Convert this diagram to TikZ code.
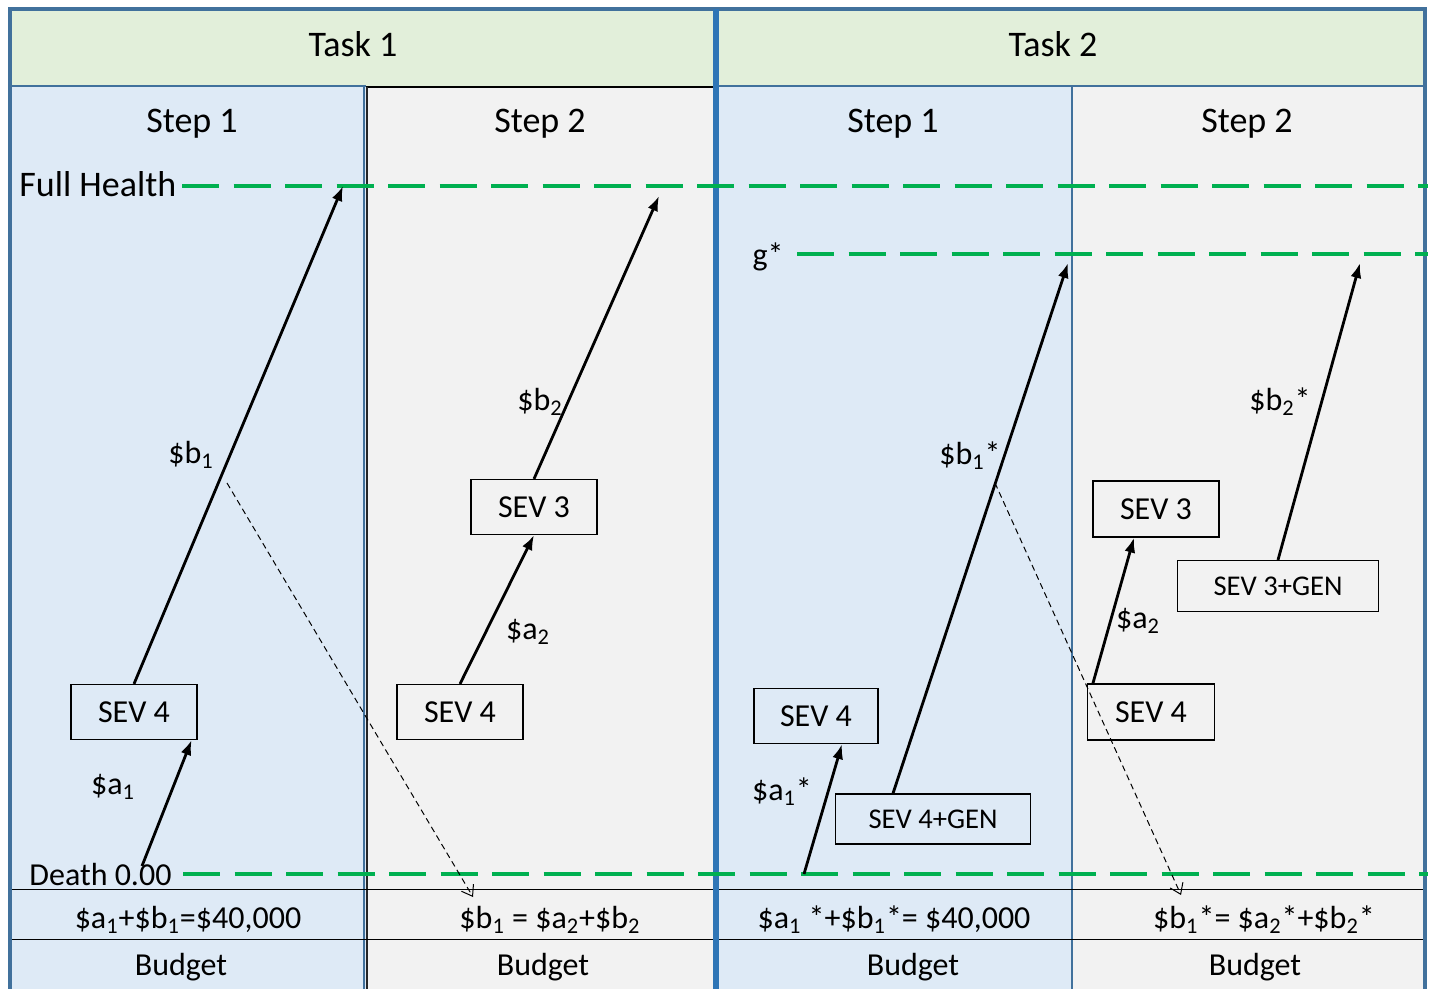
\documentclass[tikz,border=0pt]{standalone}
\usepackage{fontspec}
\setmainfont{Carlito}
\usetikzlibrary{arrows.meta,calc}

\definecolor{hdrgreen}{HTML}{E2EFDA}
\definecolor{cellblue}{HTML}{DEEAF6}
\definecolor{cellgray}{HTML}{F2F2F2}
\definecolor{frameblue}{HTML}{41719C}
\definecolor{midblue}{HTML}{2E75B6}
\definecolor{levelgreen}{HTML}{00B050}

\begin{document}
\begin{tikzpicture}[x=0.5pt,y=-0.5pt,
  big/.style={font=\fontsize{18}{21}\selectfont, inner sep=0pt},
  mid/.style={font=\fontsize{16}{19}\selectfont, inner sep=0pt},
  sevbox/.style={draw=black, line width=0.6pt, font=\fontsize{16}{19}\selectfont,
    minimum width=63pt, minimum height=27.5pt, inner sep=0pt},
  genbox/.style={sevbox, font=\fontsize{14.3}{17}\selectfont,
    minimum height=25pt},
  level/.style={levelgreen, line width=2.2pt, dash pattern=on 18.5pt off 7.25pt},
  flow/.style={line width=1.4pt, -{Latex[length=7.5pt,width=5.5pt]}},
  carry/.style={line width=0.5pt, dash pattern=on 3pt off 2pt,
    -{Straight Barb[length=5pt,width=7pt]}},
]
% canvas
\fill[white] (0,0) rectangle (1430,989);
\useasboundingbox (0,0) rectangle (1430,989);

% header and column fills
\fill[hdrgreen] (10,9) rectangle (1425,86);
\fill[cellblue] (10,86) rectangle (366,989);
\fill[cellgray] (366,86) rectangle (716,989);
\fill[cellblue] (716,86) rectangle (1072,989);
\fill[cellgray] (1072,86) rectangle (1425,989);

% cell borders
\draw[frameblue, line width=0.8pt] (10,86) -- (366,86);
\draw[black, line width=0.8pt] (366,87) -- (716,87);
\draw[frameblue, line width=0.8pt] (716,86) -- (1425,86);
\draw[frameblue, line width=0.8pt] (1072,86) -- (1072,989);
\draw[frameblue, line width=0.6pt] (364,86) -- (364,989);
\draw[black!85, line width=1.2pt] (367,87) -- (367,989);

% budget rows
\draw[black, line width=0.5pt] (12,889) -- (1425,889);
\draw[black, line width=0.5pt] (12,939) -- (1425,939);

% outer frame and task divider
\draw[frameblue, line width=2pt] (10,989) -- (10,9) -- (1425,9) -- (1425,989);
\draw[midblue, line width=3pt] (716,9) -- (716,989);

% health levels
\draw[level] (182,186) -- (1428,186);
\draw[level] (797,254) -- (1428,254);
\draw[level] (183,874) -- (1428,874);

% headings
\node[big, anchor=base] (task1) at (353,57) {Task 1};
\node[big, anchor=base] (task2) at (1053,57) {Task 2};
\node[big, anchor=base] (t1s1) at (192,133) {Step 1};
\node[big, anchor=base] (t1s2) at (540,133) {Step 2};
\node[big, anchor=base] (t2s1) at (893,133) {Step 1};
\node[big, anchor=base] (t2s2) at (1247,133) {Step 2};

% level labels
\node[big, anchor=base west] (fh) at (19,197) {Full Health};
\node[mid] (gstar) at (768,257) {g*};
\node[mid, anchor=base west] (death) at (29,885) {Death 0.00};

% budget rows text
\node[mid, anchor=base] (eq1) at (188,928) {\$a\textsubscript{1}+\$b\textsubscript{1}=\$40,000};
\node[mid, anchor=base] (eq2) at (550,928) {\$b\textsubscript{1} = \$a\textsubscript{2}+\$b\textsubscript{2}};
\node[mid, anchor=base] (eq3) at (894,928) {\$a\textsubscript{1} *+\$b\textsubscript{1}*= \$40,000};
\node[mid, anchor=base] (eq4) at (1264,928) {\$b\textsubscript{1}*= \$a\textsubscript{2}*+\$b\textsubscript{2}*};
\node[mid, anchor=base] (bud1) at (181,975) {Budget};
\node[mid, anchor=base] (bud2) at (543,975) {Budget};
\node[mid, anchor=base] (bud3) at (913,975) {Budget};
\node[mid, anchor=base] (bud4) at (1255,975) {Budget};

% severity states
\node[sevbox] (sevA) at (134,712) {SEV 4};
\node[sevbox] (sevB) at (460,712) {SEV 4};
\node[sevbox] (sevC) at (534,507) {SEV 3};
\node[sevbox, minimum width=62pt] (sevD) at (816,716) {SEV 4};
\node[genbox, minimum width=97.5pt] (sevE) at (933,819) {SEV 4+GEN};
\node[sevbox, minimum width=63pt, minimum height=28pt] (sevF) at (1156,509) {SEV 3};
\node[genbox, minimum width=100.5pt, minimum height=25.5pt] (sevG) at (1278,586) {SEV 3+GEN};
\node[sevbox, minimum width=63.5pt, minimum height=28pt] (sevH) at (1151,712) {SEV 4};

% free ends of the transitions
\coordinate (a1start) at (142,866);
\coordinate (b1top) at (343,186);
\coordinate (b2top) at (659,196);
\coordinate (a1sstart) at (804,874);
\coordinate (b1stop) at (1068,263);
\coordinate (b2stop) at (1360,263);
\coordinate (c1from) at (227,483);
\coordinate (c1to) at (473,897);
\coordinate (c2from) at (995,483);
\coordinate (c2to) at (1181,895);

% transitions
\draw[flow] (a1start) -- ($(sevA.south east)+(-6,0)$);
\draw[flow] (sevA.north) -- (b1top);
\draw[flow] (sevB.north) -- (sevC.south);
\draw[flow] (sevC.north) -- (b2top);
\draw[flow] (a1sstart) -- ($(sevD.south)+(26,0)$);
\draw[flow] ($(sevE.north)+(-40,0)$) -- (b1stop);
\draw[flow] ($(sevH.north west)+(6,0)$) -- ($(sevF.south)+(-22,0)$);
\draw[flow] (sevG.north) -- (b2stop);

% money carried into step 2
\draw[carry] (c1from) -- (c1to);
\draw[carry] (c2from) -- (c2to);

% transition labels
\node[mid] (la1) at (113,787) {\$a\textsubscript{1}};
\node[mid] (lb1) at (191,455) {\$b\textsubscript{1}};
\node[mid] (la2) at (528,632) {\$a\textsubscript{2}};
\node[mid] (lb2) at (540,402) {\$b\textsubscript{2}};
\node[mid] (la1s) at (782,792) {\$a\textsubscript{1}*};
\node[mid] (lb1s) at (970,456) {\$b\textsubscript{1}*};
\node[mid] (la2t) at (1138,621) {\$a\textsubscript{2}};
\node[mid] (lb2s) at (1280,402) {\$b\textsubscript{2}*};
\end{tikzpicture}
\end{document}
